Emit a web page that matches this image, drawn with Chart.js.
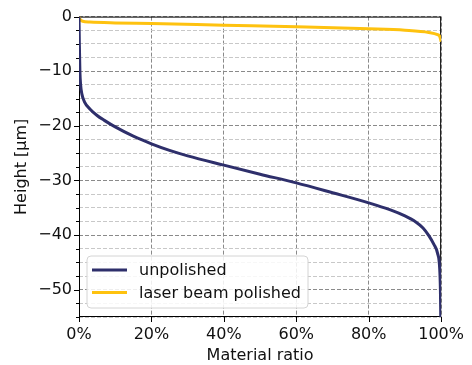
<!DOCTYPE html>
<html>
<head>
<meta charset="utf-8">
<script src="https://cdn.jsdelivr.net/npm/chart.js@4/dist/chart.umd.min.js"></script>
<style>
  html, body { margin: 0; padding: 0; background: #fff; }
  canvas { display: block; }
</style>
</head>
<body>
<canvas id="chart" width="472" height="365"></canvas>
<script>
// Abbott-Firestone (bearing area) curves of the two surfaces
const seriesNames = ['unpolished', 'laser beam polished'];
const seriesColors = ['#2e2f6b', '#fec20f'];

// material ratio [%] and height [µm] of the unpolished surface
const unpolishedRatio  = [0, 0.1, 0.25, 0.45, 0.8, 1.5, 3, 5, 7, 10, 15, 20, 25, 30, 40, 50, 60, 70, 80, 86, 90, 93, 95, 96.6, 98, 99, 99.6, 99.8, 99.9];
const unpolishedHeight = [0, -5, -10, -12.5, -14.2, -15.6, -16.9, -18.1, -19.0, -20.2, -21.9, -23.3, -24.5, -25.5, -27.2, -28.85, -30.45, -32.25, -34.1, -35.4, -36.5, -37.6, -38.7, -40.1, -41.7, -43.3, -46.1, -50, -55];

// material ratio [%] and height [µm] of the laser beam polished surface
const polishedRatio  = [0, 0.3, 1, 3, 10, 20, 40, 60, 80, 90, 96.6, 99, 99.6, 100];
const polishedHeight = [0, -0.5, -0.85, -1.0, -1.15, -1.27, -1.58, -1.88, -2.24, -2.5, -2.9, -3.3, -3.6, -4.6];

// axis ticks
const ratioTicks = [0, 20, 40, 60, 80, 100];
const heightMajorTicks = [0, -10, -20, -30, -40, -50];
const heightMin = -55;
const heightStep = 2.5;

const FONT = 'DejaVu Sans';
const FSIZE = 16;
const TEXT = '#111111';

const toPoints = (xs, ys) => xs.map((x, i) => ({ x: x, y: ys[i] }));
const isMajorHeight = v => heightMajorTicks.some(t => Math.abs(t - v) < 1e-6);

// frame, tick marks and the in-plot legend
const decorations = {
  id: 'decorations',
  beforeDatasetsDraw(chart) {
    const { ctx, chartArea: a, scales } = chart;
    ctx.save();
    ctx.strokeStyle = '#000';
    ctx.lineWidth = 1;
    ctx.setLineDash([]);
    ctx.strokeRect(a.left + 0.5, a.top + 0.5, a.right - a.left - 1, a.bottom - a.top - 1);
    ctx.beginPath();
    scales.y.ticks.forEach(t => {
      const py = Math.round(scales.y.getPixelForValue(t.value)) + 0.5;
      const len = isMajorHeight(t.value) ? 5 : 3;
      ctx.moveTo(a.left - len, py);
      ctx.lineTo(a.left, py);
    });
    ratioTicks.forEach(v => {
      const px = Math.round(scales.x.getPixelForValue(v)) + 0.5;
      ctx.moveTo(px, a.bottom);
      ctx.lineTo(px, a.bottom + 5);
    });
    ctx.stroke();
    ctx.restore();
  },
  afterDraw(chart) {
    const { ctx, chartArea: a } = chart;
    const x0 = a.left + 8, y0 = 256, w = 221, h = 52, r = 4;
    ctx.save();
    ctx.beginPath();
    ctx.moveTo(x0 + r, y0);
    ctx.arcTo(x0 + w, y0, x0 + w, y0 + h, r);
    ctx.arcTo(x0 + w, y0 + h, x0, y0 + h, r);
    ctx.arcTo(x0, y0 + h, x0, y0, r);
    ctx.arcTo(x0, y0, x0 + w, y0, r);
    ctx.closePath();
    ctx.fillStyle = 'rgba(255,255,255,0.85)';
    ctx.fill();
    ctx.strokeStyle = '#d4d4d4';
    ctx.lineWidth = 1;
    ctx.stroke();
    ctx.font = FSIZE + 'px "' + FONT + '"';
    ctx.textBaseline = 'middle';
    ctx.textAlign = 'left';
    chart.data.datasets.forEach((ds, i) => {
      const ly = y0 + 14 + i * 22.5;
      ctx.beginPath();
      ctx.strokeStyle = ds.borderColor;
      ctx.lineWidth = 3;
      ctx.moveTo(x0 + 5, ly);
      ctx.lineTo(x0 + 40, ly);
      ctx.stroke();
      ctx.fillStyle = TEXT;
      ctx.fillText(ds.label, x0 + 52, ly + 1);
    });
    ctx.restore();
  }
};

new Chart(document.getElementById('chart'), {
  type: 'line',
  data: {
    datasets: [
      {
        label: seriesNames[0],
        data: toPoints(unpolishedRatio, unpolishedHeight),
        borderColor: seriesColors[0],
        borderWidth: 3,
        pointRadius: 0,
        cubicInterpolationMode: 'monotone',
        fill: false
      },
      {
        label: seriesNames[1],
        data: toPoints(polishedRatio, polishedHeight),
        borderColor: seriesColors[1],
        borderWidth: 3,
        pointRadius: 0,
        cubicInterpolationMode: 'monotone',
        fill: false
      }
    ]
  },
  options: {
    responsive: false,
    animation: false,
    devicePixelRatio: 1,
    layout: { padding: { left: 0, top: 13, right: 30, bottom: 0 } },
    plugins: {
      legend: { display: false },
      tooltip: { enabled: false }
    },
    scales: {
      x: {
        type: 'linear',
        min: 0,
        max: 100,
        afterFit(scale) { scale.height = 48; },
        afterBuildTicks(scale) { scale.ticks = ratioTicks.map(v => ({ value: v })); },
        ticks: {
          autoSkip: false,
          maxRotation: 0,
          padding: 8,
          color: TEXT,
          font: { family: FONT, size: FSIZE },
          callback: v => v + '%'
        },
        grid: {
          drawTicks: false,
          color: '#8a8a8a',
          lineWidth: 1,
          borderDash: [4, 2]
        },
        border: { display: false, dash: [4, 2] },
        title: {
          display: true,
          text: 'Material ratio',
          color: TEXT,
          font: { family: FONT, size: FSIZE },
          padding: { top: 0, bottom: 0 }
        }
      },
      y: {
        type: 'linear',
        min: heightMin,
        max: 0,
        afterFit(scale) { scale.width = 79; },
        ticks: {
          stepSize: heightStep,
          autoSkip: false,
          padding: 7,
          color: TEXT,
          font: { family: FONT, size: FSIZE },
          callback: v => isMajorHeight(v) ? (v < 0 ? '\u2212' + Math.abs(v) : String(v)) : ''
        },
        grid: {
          drawTicks: false,
          color: ctx => (ctx.tick && isMajorHeight(ctx.tick.value)) ? '#8a8a8a' : '#c8c8c8',
          lineWidth: 1,
          borderDash: [4, 2]
        },
        border: { display: false, dash: [4, 2] },
        title: {
          display: true,
          text: 'Height [µm]',
          color: TEXT,
          font: { family: FONT, size: FSIZE },
          padding: { top: 12, bottom: 0 }
        }
      }
    }
  },
  plugins: [decorations]
});
</script>
</body>
</html>
